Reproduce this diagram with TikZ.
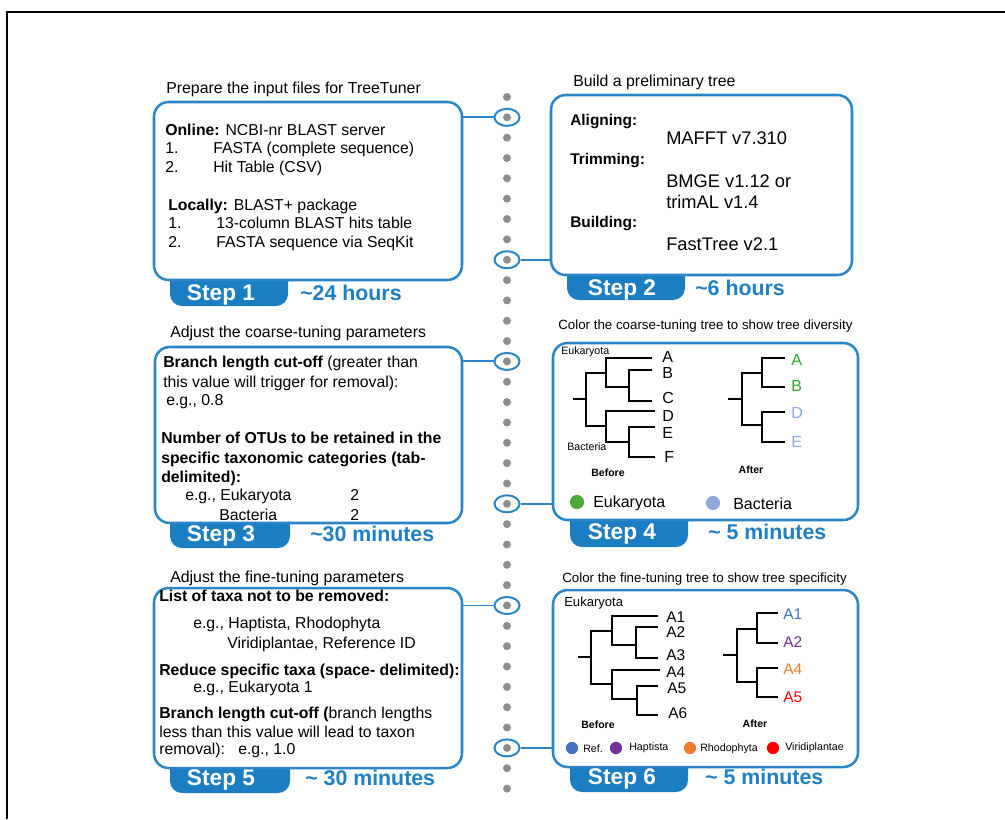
\documentclass[tikz,border=0pt]{standalone}
\usepackage{fontspec}
\setmainfont{Liberation Sans}
\usetikzlibrary{shapes.geometric}
\definecolor{bblue}{HTML}{2A86C6}
\definecolor{tabblue}{HTML}{1C7EC2}
\definecolor{hblue}{HTML}{1F7FC4}
\definecolor{dotgray}{HTML}{8E8E8E}
\definecolor{eukg}{HTML}{4DA83A}
\definecolor{eukt}{HTML}{2DA52D}
\definecolor{bact}{HTML}{8FA7DE}
\definecolor{refb}{HTML}{4472C4}
\definecolor{hapt}{HTML}{7030A0}
\definecolor{rhod}{HTML}{ED7D31}
\definecolor{viri}{HTML}{FF0000}
\begin{document}
\begin{tikzpicture}[x=0.75pt,y=-0.75pt,
 box/.style={draw=bblue, fill=white, line width=1.9pt, rounded corners=11pt, inner sep=0},
 tx/.style={inner sep=0, anchor=base west, font=\fontsize{11.85}{14}\selectfont},
 tb/.style={inner sep=0, anchor=base west, font=\fontsize{11.85}{14}\selectfont\bfseries},
 tb2/.style={inner sep=0, anchor=base west, font=\fontsize{11.6}{14}\selectfont\bfseries},
 tbig/.style={inner sep=0, anchor=base west, font=\fontsize{13.7}{16}\selectfont},
 ttl/.style={inner sep=0, anchor=base west, font=\fontsize{11.9}{14}\selectfont},
 ttls/.style={inner sep=0, anchor=base west, font=\fontsize{10}{12}\selectfont},
 tabfill/.style={fill=tabblue, rounded corners=9pt},
 steptxt/.style={inner sep=0, anchor=base, text=white, font=\fontsize{17}{18}\selectfont\bfseries},
 hrs/.style={inner sep=0, anchor=base west, text=hblue, font=\fontsize{16}{18}\selectfont\bfseries},
 ring/.style={draw=bblue, line width=1.5pt, ellipse, minimum width=18.75pt, minimum height=12.75pt, inner sep=0},
 conn/.style={draw=bblue, line width=1.4pt},
 tree/.style={line width=1.6pt, black},
 leaf/.style={inner sep=0, anchor=west, font=\fontsize{12}{14}\selectfont},
 leafs/.style={inner sep=0, anchor=west, font=\fontsize{11.6}{14}\selectfont},
 small/.style={inner sep=0, anchor=west, font=\fontsize{8}{10}\selectfont},
 smallb/.style={inner sep=0, font=\fontsize{7.9}{10}\selectfont\bfseries},
 leg/.style={inner sep=0, anchor=west, font=\fontsize{12}{14}\selectfont},
]
\useasboundingbox (0,0) rectangle (1005,819);
% frame
\draw[line width=1.2pt] (7,819) -- (7,12) -- (1005,12);

% tabs
\fill[tabfill] (170,265) rectangle (288,306);
\fill[tabfill] (567,260) rectangle (685,300);
\fill[tabfill] (170,508) rectangle (290,548);
\fill[tabfill] (570,505) rectangle (688,547);
\fill[tabfill] (170,753) rectangle (290,793);
\fill[tabfill] (570,752) rectangle (688,792);

% boxes
\node[box, minimum width=231pt, minimum height=133.5pt] (b1) at (308,191) {};
\node[box, minimum width=225.75pt, minimum height=135pt] (b2) at (701.5,185) {};
\node[box, minimum width=230.25pt, minimum height=132pt] (b3) at (308.5,435) {};
\node[box, minimum width=228.75pt, minimum height=132.75pt] (b4) at (705.5,431.5) {};
\node[box, minimum width=231pt, minimum height=135pt] (b5) at (308,678) {};
\node[box, minimum width=228.75pt, minimum height=132.75pt] (b6) at (705.5,678.5) {};

% dotted timeline
\foreach \k in {0,...,34} \fill[dotgray] (507,{97+20.34*\k}) circle (3pt);
\node[ring] (r1) at (507,117.34) {};
\node[ring] (r2) at (507,259.72) {};
\node[ring] (r3) at (507,361.42) {};
\node[ring] (r4) at (507,503.8) {};
\node[ring] (r5) at (507,605.5) {};
\node[ring] (r6) at (507,747.88) {};
\draw[conn] (b1.east |- r1) -- (r1.west);
\draw[conn] (r2.east) -- (r2 -| b2.west);
\draw[conn] (b3.east |- r3) -- (r3.west);
\draw[conn] (r4.east) -- (r4 -| b4.west);
\draw[conn] (b5.east |- r5) -- (r5.west);
\draw[conn] (r6.east) -- (r6 -| b6.west);

% titles
\node[ttl] (t1) at (166,93) {Prepare the input files for TreeTuner};
\node[ttl] (t2) at (573,86) {Build a preliminary tree};
\node[ttl] (t3) at (170,337) {Adjust the coarse-tuning parameters};
\node[ttls] (t4) at (558,329) {Color the coarse-tuning tree to show tree diversity};
\node[ttl] (t5) at (170,582) {Adjust the fine-tuning parameters};
\node[ttls] (t6) at (562,582) {Color the fine-tuning tree to show tree specificity};

% step labels
\node[steptxt] (s1) at (221,300) {Step 1};
\node[hrs] (h1) at (300,300) {\textasciitilde24 hours};
\node[steptxt] (s2) at (622,295) {Step 2};
\node[hrs] (h2) at (695,295) {\textasciitilde6 hours};
\node[steptxt] (s3) at (221,541) {Step 3};
\node[hrs] (h3) at (310,541) {\textasciitilde30 minutes};
\node[steptxt] (s4) at (622,539) {Step 4};
\node[hrs] (h4) at (708,539) {\textasciitilde\ 5 minutes};
\node[steptxt] (s5) at (221,785) {Step 5};
\node[hrs] (h5) at (305,785) {\textasciitilde\ 30 minutes};
\node[steptxt] (s6) at (622,784) {Step 6};
\node[hrs] (h6) at (705,784) {\textasciitilde\ 5 minutes};

% box 1 text
\node[tx] (a1) at (165,135) {\textbf{Online:} NCBI-nr BLAST server};
\node[tx] (a2) at (165,153) {1.};
\node[tx] (a3) at (213,153) {FASTA (complete sequence)};
\node[tx] (a4) at (165,172) {2.};
\node[tx] (a5) at (213,172) {Hit Table (CSV)};
\node[tx] (a6) at (168,210) {\textbf{Locally:} BLAST+ package};
\node[tx] (a7) at (168,228) {1.};
\node[tx] (a8) at (216,228) {13-column BLAST hits table};
\node[tx] (a9) at (168,247) {2.};
\node[tx] (a10) at (216,247) {FASTA sequence via SeqKit};

% box 2 text
\node[tb2] (c1) at (570,125) {Aligning:};
\node[tbig] (c2) at (666,144) {MAFFT v7.310};
\node[tb2] (c3) at (570,164) {Trimming:};
\node[tbig] (c4) at (666,187) {BMGE v1.12 or};
\node[tbig] (c5) at (666,208) {trimAL v1.4};
\node[tb2] (c6) at (570,227) {Building:};
\node[tbig] (c7) at (666,250) {FastTree v2.1};

% box 3 text
\node[tx] (d1) at (163,367) {\textbf{Branch length cut-off} (greater than};
\node[tx] (d2) at (163,387) {this value will trigger for removal):};
\node[tx] (d3) at (166,405) {e.g., 0.8};
\node[tb] (d4) at (161,443) {Number of OTUs to be retained in the};
\node[tb] (d5) at (161,463) {specific taxonomic categories (tab-};
\node[tb] (d6) at (161,482) {delimited):};
\node[tx] (d7) at (185,500) {e.g., Eukaryota};
\node[tx] (d8) at (350,500) {2};
\node[tx] (d9) at (219,520) {Bacteria};
\node[tx] (d10) at (350,520) {2};

% box 5 text
\node[tb] (e1) at (159,601) {List of taxa not to be removed:};
\node[tx] (e2) at (193,628) {e.g., Haptista, Rhodophyta};
\node[tx] (e3) at (227,648) {Viridiplantae, Reference ID};
\node[tb] (e4) at (159,675) {Reduce specific taxa (space- delimited):};
\node[tx] (e5) at (193,692) {e.g., Eukaryota 1};
\node[tx] (e6) at (159,718) {\textbf{Branch length cut-off (}branch lengths};
\node[tx] (e7) at (159,737) {less than this value will lead to taxon};
\node[tx] (e8) at (159,754) {removal):\ \ \ e.g., 1.0};

% box 4 trees
\node[small] (g1) at (561,352) {Eukaryota};
\node[small] (g2) at (567,447) {Bacteria};
\draw[tree] (573,399) -- (586,399);
\draw[tree] (606,373) -| (586,426) -- (606,426);
\draw[tree] (652,358) -| (606,387) -- (629,387);
\draw[tree] (652,370) -| (629,401) -- (652,401);
\draw[tree] (655,411) -| (606,442) -- (629,442);
\draw[tree] (655,427) -| (629,457) -- (655,457);
\node[leaf] (lA) at (662,357) {A};
\node[leaf] (lB) at (662,373) {B};
\node[leaf] (lC) at (662,398) {C};
\node[leaf] (lD) at (662,416) {D};
\node[leaf] (lE) at (662,433) {E};
\node[leaf] (lF) at (664,457) {F};
\node[smallb] (bf4) at (608,473) {Before};
\draw[tree] (728,399) -- (742,399);
\draw[tree] (762,373) -| (742,425) -- (762,425);
\draw[tree] (785,358) -| (762,387) -- (785,387);
\draw[tree] (785,412) -| (762,442) -- (785,442);
\node[leaf, text=eukt] (mA) at (791,360) {A};
\node[leaf, text=eukt] (mB) at (791,386) {B};
\node[leaf, text=bact] (mD) at (791,413) {D};
\node[leaf, text=bact] (mE) at (791,442) {E};
\node[smallb] (af4) at (751,470) {After};
\fill[eukg] (577,502) circle (5.3pt);
\node[leg] (le1) at (593,503) {Eukaryota};
\fill[bact] (713,503) circle (5.3pt);
\node[leg] (le2) at (733,504) {Bacteria};

% box 6 trees
\node[inner sep=0, anchor=west, font=\fontsize{9.8}{12}\selectfont] (g3) at (564,603) {Eukaryota};
\draw[tree] (578,657) -- (591,657);
\draw[tree] (612,631) -| (591,684) -- (612,684);
\draw[tree] (658,616) -| (612,645) -- (636,645);
\draw[tree] (658,627) -| (636,658) -- (658,658);
\draw[tree] (660,670) -| (612,699) -- (637,699);
\draw[tree] (658,686) -| (637,715) -- (658,715);
\node[leafs] (n1) at (666,617) {A1};
\node[leafs] (n2) at (666,632) {A2};
\node[leafs] (n3) at (666,655) {A3};
\node[leafs] (n4) at (666,672) {A4};
\node[leafs] (n5) at (667,688) {A5};
\node[leafs] (n6) at (668,713) {A6};
\node[smallb] (bf6) at (598,725) {Before};
\draw[tree] (723,655) -- (737,655);
\draw[tree] (757,629) -| (737,682) -- (757,682);
\draw[tree] (778,613) -| (757,643) -- (778,643);
\draw[tree] (778,668) -| (757,697) -- (778,697);
\node[leafs, text=refb] (p1) at (783,614) {A1};
\node[leafs, text=hapt] (p2) at (783,642) {A2};
\node[leafs, text=rhod] (p4) at (783,669) {A4};
\node[leafs, text=viri] (p5) at (783,697) {A5};
\node[smallb] (af6) at (755,724) {After};
\fill[refb] (572,748) circle (4.6pt);
\node[small] (q1) at (583,749) {Ref.};
\fill[hapt] (616,748) circle (4.6pt);
\node[small] (q2) at (629,748) {Haptista};
\fill[rhod] (690,748) circle (4.6pt);
\node[small] (q3) at (700,749) {Rhodophyta};
\fill[viri] (773,748) circle (4.6pt);
\node[small] (q4) at (785,748) {Viridiplantae};
\end{tikzpicture}
\end{document}
